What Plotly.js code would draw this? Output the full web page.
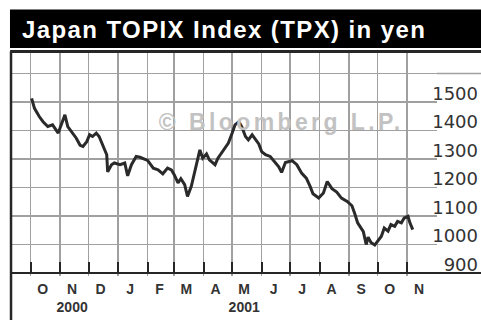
<!DOCTYPE html>
<html>
<head>
<meta charset="utf-8">
<script src="https://cdn.plot.ly/plotly-3.0.1.min.js"></script>
<style>
html,body{margin:0;padding:0;background:#fff;overflow:hidden;}
#chart{width:481px;height:320px;}
#chart .gtitle{letter-spacing:1.4px;}
#chart .annotation-text{letter-spacing:3.4px;}
</style>
</head>
<body>
<div id="chart"></div>
<script>
// ---- data (TOPIX, yen) ----
const dates = [
"2000-10-02","2000-10-05","2000-10-10","2000-10-14","2000-10-19","2000-10-24","2000-10-30",
"2000-11-02","2000-11-06","2000-11-09","2000-11-13","2000-11-18","2000-11-22","2000-11-25","2000-11-29",
"2000-12-02","2000-12-05","2000-12-09","2000-12-12","2000-12-16","2000-12-20","2000-12-21","2000-12-25","2000-12-28",
"2001-01-03","2001-01-08","2001-01-11","2001-01-15","2001-01-20","2001-01-24","2001-01-27",
"2001-02-01","2001-02-07","2001-02-12","2001-02-17","2001-02-22","2001-02-26",
"2001-03-01","2001-03-05","2001-03-08","2001-03-12","2001-03-15","2001-03-19","2001-03-24","2001-03-28","2001-03-31",
"2001-04-04","2001-04-07","2001-04-13","2001-04-16","2001-04-20","2001-04-23","2001-04-27",
"2001-05-01","2001-05-04","2001-05-08","2001-05-11","2001-05-15","2001-05-18","2001-05-22","2001-05-25","2001-05-29",
"2001-06-01","2001-06-05","2001-06-10","2001-06-15","2001-06-19","2001-06-22","2001-06-26",
"2001-07-03","2001-07-08","2001-07-13","2001-07-18","2001-07-22","2001-07-25","2001-07-31",
"2001-08-05","2001-08-09","2001-08-14","2001-08-19","2001-08-24","2001-08-30",
"2001-09-04","2001-09-07","2001-09-10","2001-09-16","2001-09-19","2001-09-21","2001-09-24","2001-09-28",
"2001-10-01","2001-10-05","2001-10-08","2001-10-12","2001-10-15","2001-10-19","2001-10-22","2001-10-26","2001-10-29",
"2001-11-02","2001-11-04","2001-11-07"
];
const topix = [
1513,1478,1449,1431,1414,1420,1391,
1420,1455,1414,1396,1373,1348,1344,1361,
1385,1379,1391,1379,1344,1315,1255,1280,1286,
1280,1286,1241,1280,1309,1306,1301,
1295,1268,1262,1248,1268,1262,
1245,1216,1231,1210,1169,1204,1274,1332,1303,
1318,1297,1280,1303,1322,1338,1356,
1391,1420,1431,1414,1379,1367,1385,1373,1353,
1326,1315,1309,1287,1273,1253,1288,
1294,1280,1251,1233,1204,1178,1163,
1181,1221,1196,1184,1163,1151,
1136,1108,1076,1045,1000,1026,1007,998,
1010,1029,1058,1047,1070,1064,1081,1076,1093,
1099,1076,1052
];
const monthTicks = ["2000-10-01","2000-11-01","2000-12-01","2001-01-01","2001-02-01","2001-03-01","2001-04-01",
  "2001-05-01","2001-06-01","2001-07-01","2001-08-01","2001-09-01","2001-10-01","2001-11-01"];
const monthLabels = ["O","N<br>2000","D","J","F","M","A","M<br>2001","J","J","A","S","O","N"];
const yGridVals = [900,1000,1100,1200,1300,1400,1500,1600];
const yLabels = ["900","1000","1100","1200","1300","1400","1500",""];
const chartTitle = "Japan TOPIX Index (TPX) in yen";
const watermark = "© Bloomberg L.P.";

const dark = "#262626";
const grid = "#a0a0a0";
const xDomR = (437-12)/469;
const plotH = 223;          // plot area: y 53 .. 276 px
const py = p => (276 - p) / plotH;   // pixel row -> paper fraction (decoration placement only)

const traces = [
  {x: dates, y: topix, type: "scatter", mode: "lines",
   line: {color: "#2a2a2a", width: 3}, hoverinfo: "skip", showlegend: false},
  {x: dates, y: topix, type: "scatter", mode: "lines", yaxis: "y2",
   line: {color: "rgba(0,0,0,0)", width: 0}, opacity: 0, hoverinfo: "skip", showlegend: false}
];

const layout = {
  width: 481, height: 320,
  margin: {l: 12, r: 0, t: 53, b: 44, pad: 0},
  paper_bgcolor: "#fff", plot_bgcolor: "#fff",
  font: {family: "Liberation Sans, Arial, sans-serif", color: dark},
  title: {text: chartTitle, xref: "container", yref: "container", x: 22/481, xanchor: "left",
          y: 1-29.5/320, yanchor: "middle",
          font: {family: "Liberation Sans, Arial, sans-serif", size: 24, color: "#fff", weight: "bold"}},
  xaxis: {type: "date", domain: [0, xDomR], range: ["2000-09-11 08:00","2001-12-02 12:00"],
          anchor: "free", position: 3/plotH,
          tickmode: "array", tickvals: monthTicks, ticktext: monthLabels,
          ticks: "inside", ticklen: 11, tickwidth: 2, tickcolor: dark,
          ticklabelshift: 12, ticklabelstandoff: 6,
          tickfont: {family: "Liberation Sans, Arial, sans-serif", size: 14, color: "#333", weight: "bold"},
          showgrid: true, gridcolor: grid, gridwidth: 1.5,
          showline: false, zeroline: false, fixedrange: true},
  yaxis: {range: [889.5, 1672], tickmode: "array", tickvals: yGridVals, showticklabels: false,
          ticks: "", showgrid: true, gridcolor: grid, gridwidth: 1.5,
          showline: false, zeroline: false, fixedrange: true},
  yaxis2: {overlaying: "y", matches: "y", side: "right", anchor: "free", position: 1,
           tickmode: "array", tickvals: yGridVals, ticktext: yLabels,
           ticklabelposition: "inside top", ticks: "", ticklabelstandoff: 0, ticklabelshift: 4,
           tickfont: {family: "DejaVu Sans, sans-serif", size: 18, color: "#333"},
           showgrid: false, showline: false, zeroline: false, fixedrange: true},
  shapes: [
    {type: "rect", xref: "paper", yref: "paper", x0: -0.0043, x1: 1.02, y0: py(48), y1: py(9.5),
     fillcolor: "#000", line: {width: 0}, layer: "above"},
    {type: "line", xref: "paper", yref: "paper", x0: -0.004, x1: 1.02, y0: py(51.5), y1: py(51.5),
     line: {color: dark, width: 3}},
    {type: "line", xref: "paper", yref: "paper", x0: -0.0021, x1: -0.0021, y0: py(322), y1: py(51.5),
     line: {color: dark, width: 2.5}},
    {type: "line", xref: "paper", yref: "y", x0: 0, x1: 1.02, y0: 900, y1: 900,
     line: {color: dark, width: 2}},
    {type: "line", xref: "paper", yref: "y", x0: xDomR, x1: 1.02, y0: 1600, y1: 1600,
     line: {color: grid, width: 1.5}}
  ],
  annotations: [
    {text: watermark, xref: "paper", yref: "paper", x: (184-12)/469, y: py(121.5),
     xanchor: "left", yanchor: "middle", showarrow: false,
     font: {family: "Liberation Sans, Arial, sans-serif", size: 23, color: "#c2c2c2", weight: "bold"}}
  ]
};

Plotly.newPlot("chart", traces, layout, {staticPlot: true, displayModeBar: false});
</script>
</body>
</html>
